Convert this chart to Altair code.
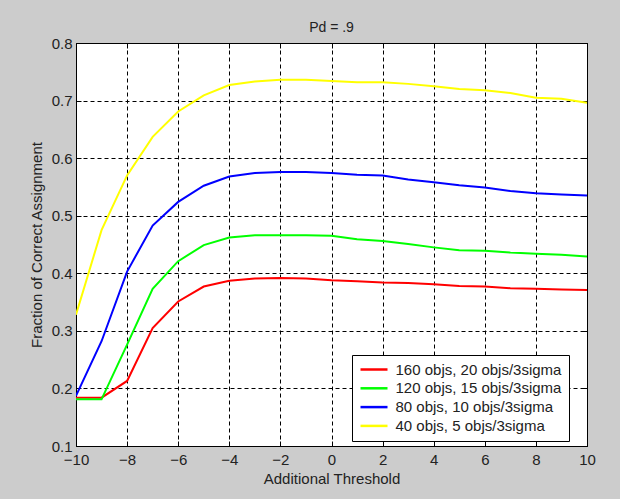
import altair as alt
import pandas as pd

thresholds = list(range(-10, 11))
series_names = [
    "160 objs, 20 objs/3sigma",
    "120 objs, 15 objs/3sigma",
    "80 objs, 10 objs/3sigma",
    "40 objs, 5 objs/3sigma",
]
series_colors = ["#ff0000", "#00ff00", "#0000ff", "#ffff00"]

red_160 = [0.184, 0.184, 0.213, 0.305, 0.351, 0.377, 0.387, 0.391, 0.392, 0.391, 0.388,
           0.386, 0.384, 0.383, 0.381, 0.378, 0.377, 0.374, 0.373, 0.372, 0.371]
green_120 = [0.181, 0.181, 0.276, 0.373, 0.421, 0.449, 0.462, 0.466, 0.466, 0.466, 0.465,
             0.459, 0.456, 0.451, 0.445, 0.440, 0.439, 0.436, 0.434, 0.432, 0.429]
blue_80 = [0.187, 0.282, 0.403, 0.483, 0.524, 0.552, 0.568, 0.574, 0.576, 0.576, 0.574,
           0.571, 0.570, 0.563, 0.558, 0.553, 0.549, 0.543, 0.539, 0.537, 0.535]
yellow_40 = [0.328, 0.475, 0.570, 0.637, 0.681, 0.709, 0.727, 0.733, 0.736, 0.736, 0.734,
             0.732, 0.732, 0.729, 0.725, 0.720, 0.718, 0.713, 0.705, 0.703, 0.696]

x_ticks = [-10, -8, -6, -4, -2, 0, 2, 4, 6, 8, 10]
y_ticks = [0.1, 0.2, 0.3, 0.4, 0.5, 0.6, 0.7, 0.8]

rows = []
for name, vals in zip(series_names, [red_160, green_120, blue_80, yellow_40]):
    for t, v in zip(thresholds, vals):
        rows.append({"threshold": t, "fraction": v, "series": name})
df = pd.DataFrame(rows)

FONT = "Liberation Sans"
FS = 15
x_scale = alt.Scale(domain=[-10, 10], nice=False, zero=False)
y_scale = alt.Scale(domain=[0.1, 0.8], nice=False, zero=False)

lines = alt.Chart(df).mark_line(strokeWidth=2, clip=True).encode(
    x=alt.X("threshold:Q", scale=x_scale,
            axis=alt.Axis(values=x_ticks, title="Additional Threshold", format="d",
                          grid=True, gridDash=[4, 3], gridColor="black", gridOpacity=1,
                          domain=False, ticks=True, tickSize=5, offset=-5, tickColor="black",
                          labelPadding=6, labelFontSize=FS, labelFont=FONT, labelColor="#222",
                          titleFont=FONT, titleFontSize=FS, titleFontWeight="normal",
                          titleColor="#222", titlePadding=4, labelFlush=False)),
    y=alt.Y("fraction:Q", scale=y_scale,
            axis=alt.Axis(values=y_ticks, title="Fraction of Correct Assignment", format=".1f",
                          grid=True, gridDash=[4, 3], gridColor="black", gridOpacity=1,
                          domain=False, ticks=True, tickSize=5, offset=-5, tickColor="black",
                          labelPadding=4, labelFontSize=FS, labelFont=FONT, labelColor="#222",
                          titleFont=FONT, titleFontSize=FS, titleFontWeight="normal",
                          titleColor="#222", titlePadding=7, labelFlush=False)),
    color=alt.Color("series:N", sort=series_names,
                    scale=alt.Scale(domain=series_names, range=series_colors),
                    legend=alt.Legend(title=None)),
    order=alt.Order("threshold:Q"),
)

mirror = alt.Chart(df).mark_line(opacity=0).encode(
    x=alt.X("threshold:Q", scale=x_scale,
            axis=alt.Axis(values=x_ticks, orient="top", title=None, labels=False, grid=False,
                          domain=False, tickSize=5, offset=-5, tickColor="black")),
    y=alt.Y("fraction:Q", scale=y_scale,
            axis=alt.Axis(values=y_ticks, orient="right", title=None, labels=False, grid=False,
                          domain=False, tickSize=5, offset=-5, tickColor="black")),
)

chart = alt.layer(lines, mirror).resolve_axis(x="independent", y="independent").properties(
    width=511,
    height=403,
    autosize=alt.AutoSizeParams(type="none"),
    padding={"left": 76, "top": 43, "right": 33, "bottom": 53},
    background="#cccccc",
    title=alt.TitleParams("Pd = .9", font=FONT, fontSize=14, fontWeight="normal",
                          color="#222", anchor="middle", frame="group",
                          baseline="alphabetic", offset=14, dy=24),
).configure_view(
    fill="white", stroke="black", strokeWidth=1
).configure_legend(
    orient="none", legendX=276, legendY=312,
    fillColor="white", strokeColor="black", padding=7,
    symbolType="M-3,0H3", symbolSize=81, symbolStrokeWidth=2.5,
    symbolOffset=7.5, labelOffset=14, rowPadding=2.8, labelLimit=400,
    labelFont=FONT, labelFontSize=FS, labelColor="#222", cornerRadius=0,
)

chart.save("out.html", embed_options={"renderer": "svg", "actions": False})
